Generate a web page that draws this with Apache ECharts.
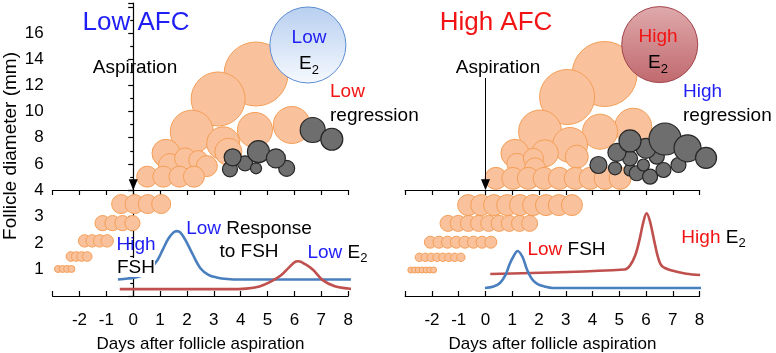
<!DOCTYPE html>
<html>
<head>
<meta charset="utf-8">
<script src="https://cdn.jsdelivr.net/npm/echarts@6/dist/echarts.min.js"></script>
<style>
  html, body { margin: 0; padding: 0; background: #fff; }
  #chart { width: 776px; height: 353px; }
</style>
</head>
<body>
<div id="chart"></div>
<script>
// ---- data: [day, value, bubble size] ----
const dayTicks = [-2, -1, 0, 1, 2, 3, 4, 5, 6, 7, 8];
const upperTicks = [6, 8, 10, 12, 14, 16];
const lowerTicks = [1, 2, 3, 4];

// Low AFC panel
const lowGrowing = [
  [4.57, 12.87, 16], [3.16, 10.96, 13.5], [2.18, 8.46, 10.75], [5.90, 8.97, 9.25],
  [4.53, 8.59, 8.75], [3.35, 7.57, 8.25], [3.54, 6.93, 6.75], [1.22, 6.81, 7],
  [1.37, 5.91, 5.75], [1.93, 6.42, 5.25], [2.42, 6.29, 4.75], [2.74, 5.83, 5.25],
  [0.52, 5.02, 5.25], [1.12, 5.02, 5.25], [1.72, 5.02, 5.25], [2.26, 5.02, 5.25]
];
const lowRegressing = [
  [3.60, 5.58, 3.75], [4.16, 6.04, 3.75], [3.70, 6.50, 4.25], [4.57, 5.66, 2.75],
  [4.66, 6.93, 5.5], [5.71, 5.66, 4], [5.31, 6.42, 4.75], [6.68, 8.59, 6.25], [7.39, 7.88, 5.5]
];
const lowEarly = [
  [-2.80, 1.02, 1.75], [-2.63, 1.02, 1.75], [-2.46, 1.02, 1.75], [-2.30, 1.02, 1.75],
  [-2.32, 1.49, 2.4], [-2.12, 1.49, 2.4], [-1.92, 1.49, 2.4], [-1.71, 1.49, 2.4],
  [-1.81, 2.08, 3.1], [-1.53, 2.08, 3.1], [-1.25, 2.08, 3.1], [-0.97, 2.08, 3.1],
  [-1.14, 2.75, 3.8], [-0.77, 2.75, 3.8], [-0.40, 2.75, 3.8], [-0.03, 2.75, 3.8],
  [-0.45, 3.47, 4.75], [0.05, 3.47, 4.75], [0.54, 3.47, 4.75], [1.04, 3.47, 4.75]
];
const lowE2Bubble = [[6.5, 15.09, 19]];
const lowFSH = [
  [-0.57, 0.62], [-0.2, 0.66], [0.25, 0.74], [0.6, 1.0], [0.9, 1.35], [1.1, 1.75],
  [1.3, 2.15], [1.5, 2.4], [1.62, 2.45], [1.75, 2.4], [1.95, 2.1], [2.2, 1.6],
  [2.5, 1.05], [2.8, 0.8], [3.1, 0.7], [3.5, 0.64], [4.0, 0.62], [8.1, 0.62]
];
const lowE2 = [
  [-0.5, 0.26], [3.5, 0.26], [4.2, 0.28], [4.7, 0.36], [5.1, 0.53], [5.5, 0.78],
  [5.8, 1.08], [6.05, 1.3], [6.15, 1.31], [6.4, 1.2], [6.7, 0.98], [7.05, 0.6],
  [7.5, 0.37], [8.0, 0.28], [8.3, 0.25]
];

// High AFC panel
const highGrowing = [
  [4.45, 12.87, 16.25], [3.05, 11.11, 13.75], [2.04, 8.47, 10.75], [5.52, 8.84, 9.25],
  [4.28, 8.46, 8.75], [3.16, 7.44, 8.75], [1.10, 6.81, 7], [2.22, 6.81, 6.75],
  [3.41, 6.55, 5.75], [1.17, 6.04, 5], [1.79, 6.42, 5], [1.85, 5.66, 5.25],
  [0.39, 4.89, 5.5], [1.02, 4.89, 5.5], [1.60, 4.89, 5.5], [2.19, 4.89, 5.5], [2.76, 4.89, 5.5],
  [3.35, 4.89, 5.5], [3.91, 4.89, 5.5], [4.47, 4.89, 5.5], [5.03, 4.89, 5.5]
];
const highRegressing = [
  [5.40, 5.53, 3], [5.65, 5.28, 3.75], [6.15, 5.02, 3.75], [7.21, 5.91, 3.75],
  [6.65, 5.53, 3.75], [6.40, 6.55, 3.75], [5.90, 5.91, 3], [5.40, 6.42, 3.75],
  [4.84, 5.66, 3.25], [4.22, 5.91, 4.25], [4.91, 6.87, 4.5], [6.00, 7.19, 5],
  [5.40, 7.75, 5.5], [6.71, 7.90, 8], [7.55, 7.19, 6.75], [8.24, 6.45, 5.25]
];
const highEarly = [
  [-2.79, 0.98, 1.5], [-2.65, 0.98, 1.5], [-2.51, 0.98, 1.5], [-2.37, 0.98, 1.5],
  [-2.22, 0.98, 1.5], [-2.08, 0.98, 1.5], [-1.94, 0.98, 1.5],
  [-2.47, 1.46, 2.1], [-2.25, 1.46, 2.1], [-2.03, 1.46, 2.1], [-1.81, 1.46, 2.1],
  [-1.59, 1.46, 2.1], [-1.37, 1.46, 2.1], [-1.15, 1.46, 2.1], [-0.92, 1.46, 2.1],
  [-2.06, 2.03, 3], [-1.74, 2.03, 3], [-1.42, 2.03, 3], [-1.09, 2.03, 3],
  [-0.77, 2.03, 3], [-0.45, 2.03, 3], [-0.13, 2.03, 3], [0.20, 2.03, 3],
  [-1.40, 2.74, 4], [-1.02, 2.74, 4], [-0.64, 2.74, 4], [-0.26, 2.74, 4], [0.12, 2.74, 4],
  [0.51, 2.74, 4], [0.89, 2.74, 4], [1.27, 2.74, 4], [1.65, 2.74, 4],
  [-0.65, 3.43, 5.25], [-0.16, 3.43, 5.25], [0.32, 3.43, 5.25], [0.81, 3.43, 5.25], [1.29, 3.43, 5.25],
  [1.78, 3.43, 5.25], [2.26, 3.43, 5.25], [2.74, 3.43, 5.25], [3.23, 3.43, 5.25]
];
const highE2Bubble = [[6.51, 15.12, 19]];
const highFSH = [
  [-0.02, 0.30], [0.3, 0.36], [0.54, 0.49], [0.75, 0.8], [0.9, 1.2], [1.05, 1.5],
  [1.2, 1.7], [1.38, 1.48], [1.55, 1.0], [1.75, 0.62], [1.95, 0.45], [2.2, 0.36],
  [2.5, 0.3], [8.37, 0.3]
];
const highE2 = [
  [0.18, 0.83], [5.2, 1.0], [5.4, 1.15], [5.6, 1.55], [5.75, 2.1], [5.9, 2.8],
  [6.02, 3.12], [6.15, 2.8], [6.3, 2.1], [6.45, 1.45], [6.6, 1.12], [7.0, 0.95],
  [7.5, 0.84], [8.02, 0.79]
];

const aspirationDay = 0;
const arrowFrom = 12.56;
const arrowTo = 4.4;

// ---- styling ----
const FONT = "'Liberation Sans', Arial, sans-serif";
const BLUE_TXT = '#1f1ff5';
const RED_TXT = '#f21414';
const ORANGE = { color: '#f9c29d', borderColor: '#f59e55', borderWidth: 1 };
const GRAY = { color: '#6e6e6e', borderColor: '#262626', borderWidth: 1.2 };
const black = { color: '#000', width: 1.2 };

const chart = echarts.init(document.getElementById('chart'), null, { renderer: 'canvas' });

const grids = [
  { left: 52.6, top: 3, width: 295.6, height: 187 },
  { left: 52.6, top: 190, width: 295.6, height: 106 },
  { left: 405.2, top: 3, width: 294.4, height: 187 },
  { left: 405.2, top: 190, width: 294.4, height: 106 }
].map((g) => Object.assign({ outerBoundsMode: 'none', containLabel: false }, g));

const xAxes = [];
const yAxes = [];
[0, 1].forEach((panel) => {
  const up = panel * 2;
  const low = panel * 2 + 1;
  xAxes.push({ gridIndex: up, type: 'value', min: -3, max: 8, show: false });
  xAxes.push({
    gridIndex: low, type: 'value', min: -3, max: 8, interval: 1, position: 'bottom',
    axisLine: { show: true, onZero: false, lineStyle: black },
    axisTick: { show: true, inside: true, length: 5, lineStyle: black },
    axisLabel: {
      margin: 16, fontSize: 17, color: '#000', fontFamily: FONT,
      formatter: (v) => (dayTicks.includes(v) ? String(v) : '')
    },
    splitLine: { show: false },
    name: 'Days after follicle aspiration', nameLocation: 'middle', nameGap: 40,
    nameTextStyle: { fontSize: 17, color: '#000', fontFamily: FONT }
  });
  xAxes.push({
    gridIndex: low, type: 'value', min: -3, max: 8, interval: 1, position: 'top',
    axisLine: { show: true, onZero: false, lineStyle: black },
    axisTick: { show: true, inside: true, length: 5, lineStyle: black },
    axisLabel: { show: false },
    splitLine: { show: false }
  });
});

const yCommon = {
  type: 'value',
  axisLine: { show: true, lineStyle: black },
  axisTick: { show: true, inside: false, length: 5, lineStyle: black },
  minorTick: { show: true, splitNumber: 2, length: 3, lineStyle: black },
  splitLine: { show: false },
  minorSplitLine: { show: false }
};
yAxes.push(Object.assign({}, yCommon, {
  gridIndex: 0, min: 4, max: 18.3, interval: 2,
  axisLabel: { margin: 9, fontSize: 17, color: '#000', fontFamily: FONT,
    formatter: (v) => (upperTicks.includes(v) ? String(v) : '') }
}));
yAxes.push(Object.assign({}, yCommon, {
  gridIndex: 1, min: 0, max: 4, interval: 1,
  axisLabel: { margin: 9, fontSize: 17, color: '#000', fontFamily: FONT,
    formatter: (v) => (lowerTicks.includes(v) ? String(v) : '') }
}));
yAxes.push({ gridIndex: 2, type: 'value', min: 4, max: 18.3, show: false });
yAxes.push({ gridIndex: 3, type: 'value', min: 0, max: 4, show: false });

const bubbleSize = (v) => v[2] * 4;

function bubbles(data, xi, yi, style, extra) {
  return Object.assign({
    type: 'scatter', xAxisIndex: xi, yAxisIndex: yi, data, clip: false, silent: true,
    symbolSize: bubbleSize, itemStyle: Object.assign({ opacity: 1 }, style)
  }, extra || {});
}

function curve(data, xi, yi, color) {
  return {
    type: 'line', xAxisIndex: xi, yAxisIndex: yi, data, smooth: 0.35, clip: false,
    showSymbol: false, symbol: 'none', silent: true,
    lineStyle: { color, width: 2.6 }
  };
}

function arrow() {
  return {
    silent: true, symbol: ['none', 'triangle'], symbolSize: [9, 11], animation: false,
    lineStyle: { color: '#000', width: 1, type: 'solid' }, label: { show: false },
    emphasis: { disabled: true },
    data: [[{ coord: [aspirationDay, arrowFrom] }, { coord: [aspirationDay, arrowTo] }]]
  };
}

const blueCircle = {
  color: new echarts.graphic.LinearGradient(0, 0, 0, 1, [
    { offset: 0, color: '#b7cff0' }, { offset: 1, color: '#f6f9fe' }
  ]),
  borderColor: '#5d8dd3', borderWidth: 1
};
const redCircle = {
  color: new echarts.graphic.LinearGradient(0, 0, 0, 1, [
    { offset: 0, color: '#dfaaac' }, { offset: 1, color: '#c0696e' }
  ]),
  borderColor: '#a2434a', borderWidth: 1
};

const FSH_BLUE = '#4a7fbf';
const E2_RED = '#c0504d';

const series = [
  bubbles(lowGrowing, 0, 0, ORANGE, { markLine: arrow() }),
  bubbles(lowRegressing, 0, 0, GRAY),
  bubbles(lowE2Bubble, 0, 0, blueCircle),
  bubbles(lowEarly, 1, 1, ORANGE),
  curve(lowFSH, 1, 1, FSH_BLUE),
  curve(lowE2, 1, 1, E2_RED),
  bubbles(highGrowing, 3, 2, ORANGE, { markLine: arrow() }),
  bubbles(highRegressing, 3, 2, GRAY),
  bubbles(highE2Bubble, 3, 2, redCircle),
  bubbles(highEarly, 4, 3, ORANGE),
  curve(highE2, 4, 3, E2_RED),
  curve(highFSH, 4, 3, FSH_BLUE)
];

function richStyles(size, lh) {
  const base = { fontSize: size, fontFamily: FONT, lineHeight: lh };
  return {
    b: Object.assign({ fill: BLUE_TXT }, base),
    r: Object.assign({ fill: RED_TXT }, base),
    w: Object.assign({ fill: '#000', backgroundColor: '#fff' }, base),
    s: { fill: '#000', fontSize: 13, fontFamily: FONT, lineHeight: 14, verticalAlign: 'bottom' }
  };
}

function label(text, x, y, opts) {
  const o = Object.assign({ size: 19, lh: 24, align: 'center', fill: '#000', rotation: 0 }, opts || {});
  return {
    type: 'text', x, y, z: 100, rotation: o.rotation, silent: true,
    style: {
      text, fill: o.fill, fontSize: o.size, fontFamily: FONT, lineHeight: o.lh,
      align: o.align, verticalAlign: 'middle', rich: richStyles(o.size, o.lh)
    }
  };
}

const graphic = [
  label('Low AFC', 136, 23, { size: 26, fill: BLUE_TXT }),
  label('High AFC', 496, 23, { size: 26, fill: RED_TXT }),
  label('Aspiration', 135, 68),
  label('Aspiration', 498, 68),
  label('{r|Low}\nregression', 330, 104, { align: 'left' }),
  label('{b|High}\nregression', 683, 104, { align: 'left' }),
  label('{b|Low}\nE{s|2}', 309, 51, { lh: 26 }),
  label('{r|High}\nE{s|2}', 658, 50, { lh: 26 }),
  label('{b|High}\n{w|FSH}', 136, 256, { lh: 23 }),
  label('{b|Low} Response\nto FSH', 249, 240.5, { lh: 23 }),
  label('{b|Low} E{s|2}', 337.5, 253),
  label('{r|Low} FSH', 566.5, 250),
  label('{r|High} E{s|2}', 713.5, 238),
  label('Follicle diameter (mm)', 11, 146, { rotation: Math.PI / 2 })
];

chart.setOption({
  animation: false,
  backgroundColor: '#fff',
  textStyle: { fontFamily: FONT },
  grid: grids,
  xAxis: xAxes,
  yAxis: yAxes,
  series,
  graphic
});
</script>
</body>
</html>
